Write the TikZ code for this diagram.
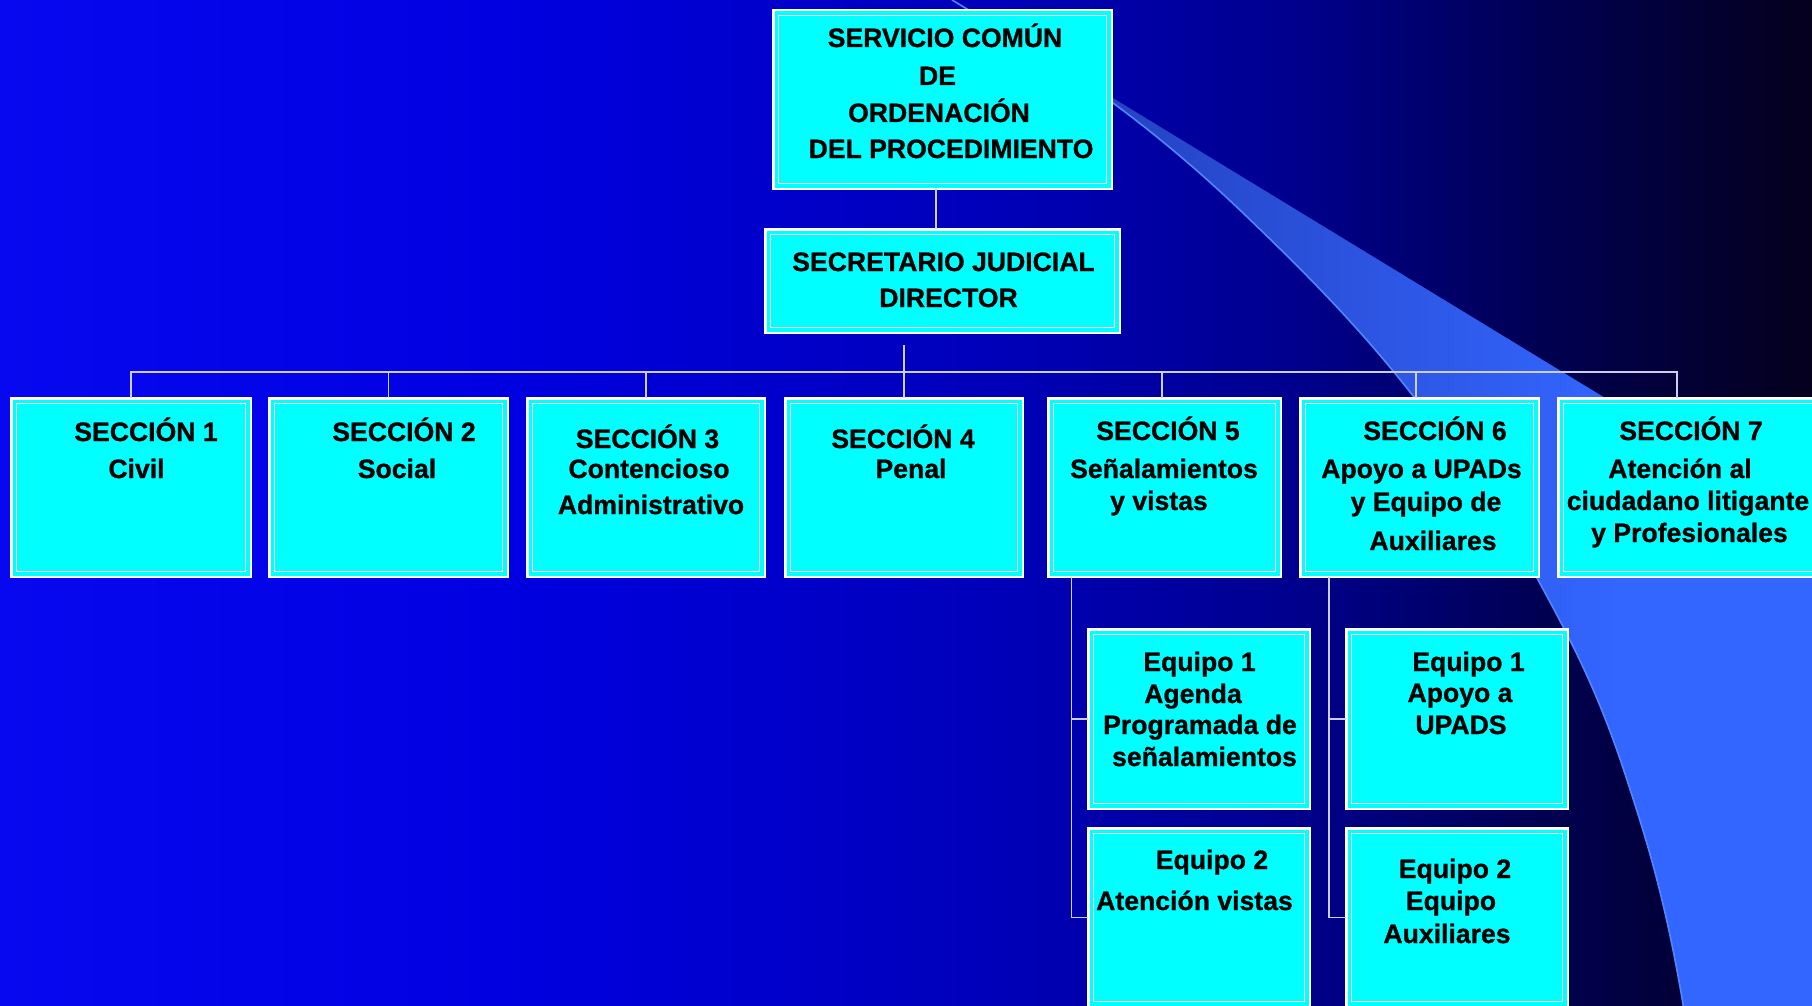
\documentclass[tikz,border=0pt]{standalone}
\usepackage{fontspec}
\setmainfont{Liberation Sans}[BoldFeatures={FakeBold=0.8}]
\usetikzlibrary{calc}
\definecolor{boxcyan}{RGB}{0,255,255}
\definecolor{connc}{RGB}{205,205,240}
\definecolor{swA}{RGB}{32,55,175}
\definecolor{swB}{RGB}{51,102,255}
\definecolor{swEdge}{RGB}{80,135,255}
\definecolor{bgA}{RGB}{8,8,240}
\definecolor{bgB}{RGB}{0,0,225}
\definecolor{bgC}{RGB}{0,0,185}
\definecolor{bgD}{RGB}{0,0,140}
\definecolor{bgE}{RGB}{0,0,80}
\definecolor{bgF}{RGB}{5,0,28}
\newcommand\obox[5]{\node[orgbox, anchor=north west, minimum width={#4pt-#2pt-2.5pt}, minimum height={#5pt-#3pt-2.5pt}] (#1) at (#2+1.25,#3+1.25) {};}
\newcommand\tline[4]{\node[txt] (#1) at (#2,#3) {#4};}
\begin{document}
\begin{tikzpicture}[x=1pt,y=-1pt,
  orgbox/.style={draw=white, line width=2.5pt, fill=boxcyan, rectangle, inner sep=0pt, outer sep=0pt,
    path picture={\draw[white,line width=1.1pt] ([shift={(5pt,-5pt)}]path picture bounding box.north west) rectangle ([shift={(-5pt,5pt)}]path picture bounding box.south east);}},
  conn/.style={draw=connc, line width=1.4pt},
  txt/.style={anchor=base, inner sep=0pt, font=\fontsize{26.6}{31}\selectfont\bfseries, text=black}]
\useasboundingbox (0,0) rectangle (1812,1006);
\clip (0,0) rectangle (1812,1006);
% background gradient
\shade[left color=bgA, right color=bgB] (0,0) rectangle (501,1006);
\shade[left color=bgB, right color=bgC] (500,0) rectangle (1001,1006);
\shade[left color=bgC, right color=bgD] (1000,0) rectangle (1301,1006);
\shade[left color=bgD, right color=bgE] (1300,0) rectangle (1551,1006);
\shade[left color=bgE, right color=bgF] (1550,0) rectangle (1812,1006);
% swoosh
\begin{scope}
\clip (952,0) .. controls (1005.67,32.2) and (1059.33,63.3) .. (1113,103)
  .. controls (1156.33,135.07) and (1199.67,171.4) .. (1243,213)
  .. controls (1298.67,266.44) and (1354.33,321.3) .. (1410,392)
  .. controls (1452.33,445.76) and (1494.67,499.7) .. (1537,578)
  .. controls (1567,633.5) and (1597,687) .. (1627,780)
  .. controls (1646,838.9) and (1665,896) .. (1684,1010)
  -- (1830,1012) -- (1830,535) -- cycle;
\shade[left color=swA, right color=swB] (940,0) rectangle (1620,1012);
\fill[swB] (1619,0) rectangle (1830,1012);
\end{scope}
\draw[swEdge, line width=1.6pt] (952,0) .. controls (1005.67,32.2) and (1059.33,63.3) .. (1113,103)
  .. controls (1156.33,135.07) and (1199.67,171.4) .. (1243,213)
  .. controls (1298.67,266.44) and (1354.33,321.3) .. (1410,392)
  .. controls (1452.33,445.76) and (1494.67,499.7) .. (1537,578)
  .. controls (1567,633.5) and (1597,687) .. (1627,780)
  .. controls (1646,838.9) and (1665,896) .. (1684,1010);
% boxes
\obox{top}{772}{9}{1113}{190}
\obox{dir}{764}{228}{1121}{334}
\obox{s1}{10}{397}{252}{578}
\obox{s2}{268}{397}{509}{578}
\obox{s3}{526}{397}{766}{578}
\obox{s4}{784}{397}{1024}{578}
\obox{s5}{1047}{397}{1282}{578}
\obox{s6}{1299}{397}{1540}{578}
\obox{s7}{1557}{397}{1830}{578}
\obox{e51}{1087}{628}{1311}{810}
\obox{e52}{1087}{827}{1311}{1008}
\obox{e61}{1345}{628}{1569}{810}
\obox{e62}{1345}{827}{1569}{1008}
% connectors
\coordinate (bus) at (0,372);
\coordinate (dirout) at (904,345);
\coordinate (topout) at ([xshift=-6.5pt]top.south);
\coordinate (s5in) at ([xshift=-2.5pt]s5.north);
\coordinate (s6in) at ([xshift=-3.5pt]s6.north);
\coordinate (s7in) at ([xshift=-16.5pt]s7.north);
\coordinate (s5out) at ([xshift=23pt]s5.south west);
\coordinate (s6out) at ([xshift=28.75pt]s6.south west);
\draw[conn] (topout) -- (topout |- dir.north);
\draw[conn] (dirout) -- (dirout |- bus);
\draw[conn] (s1.north) -- (s1.north |- bus) -- (s7in |- bus) -- (s7in);
\draw[conn] (s2.north) -- (s2.north |- bus);
\draw[conn] (s3.north) -- (s3.north |- bus);
\draw[conn] (s4.north) -- (s4.north |- bus);
\draw[conn] (s5in) -- (s5in |- bus);
\draw[conn] (s6in) -- (s6in |- bus);
\draw[conn] (s5out) |- (e51.west);
\draw[conn] (s5out) |- (e52.west);
\draw[conn] (s6out) |- (e61.west);
\draw[conn] (s6out) |- (e62.west);
% texts
\tline{ta}{945}{47}{SERVICIO COMÚN}
\tline{tb}{937.5}{85}{DE}
\tline{tc}{939}{122}{ORDENACIÓN}
\tline{td}{951}{158}{DEL PROCEDIMIENTO}
\tline{da}{943.5}{271}{SECRETARIO JUDICIAL}
\tline{db}{948.5}{307}{DIRECTOR}
\tline{s1a}{146}{441}{SECCIÓN 1}
\tline{s1b}{136.5}{478}{Civil}
\tline{s2a}{404}{441}{SECCIÓN 2}
\tline{s2b}{397}{478}{Social}
\tline{s3a}{647.5}{448}{SECCIÓN 3}
\tline{s3b}{649}{478}{Contencioso}
\tline{s3c}{651}{514}{Administrativo}
\tline{s4a}{903}{448}{SECCIÓN 4}
\tline{s4b}{911}{478}{Penal}
\tline{s5a}{1168}{440}{SECCIÓN 5}
\tline{s5b}{1164}{478}{Señalamientos}
\tline{s5c}{1159}{510}{y vistas}
\tline{s6a}{1435}{440}{SECCIÓN 6}
\tline{s6b}{1421.5}{478}{Apoyo a UPADs}
\tline{s6c}{1426}{511}{y Equipo de}
\tline{s6d}{1433}{550}{Auxiliares}
\tline{s7a}{1691}{440}{SECCIÓN 7}
\tline{s7b}{1680}{478}{Atención al}
\tline{s7c}{1688}{510}{ciudadano litigante}
\tline{s7d}{1689.5}{542}{y Profesionales}
\tline{e51a}{1199.5}{671}{Equipo 1}
\tline{e51b}{1193}{703}{Agenda}
\tline{e51c}{1200}{734}{Programada de}
\tline{e51d}{1204.5}{766}{señalamientos}
\tline{e52a}{1212}{869}{Equipo 2}
\tline{e52b}{1194.5}{910}{Atención vistas}
\tline{e61a}{1468.5}{671}{Equipo 1}
\tline{e61b}{1460}{702}{Apoyo a}
\tline{e61c}{1461}{734}{UPADS}
\tline{e62a}{1455}{878}{Equipo 2}
\tline{e62b}{1451}{910}{Equipo}
\tline{e62c}{1447}{943}{Auxiliares}
\end{tikzpicture}
\end{document}
